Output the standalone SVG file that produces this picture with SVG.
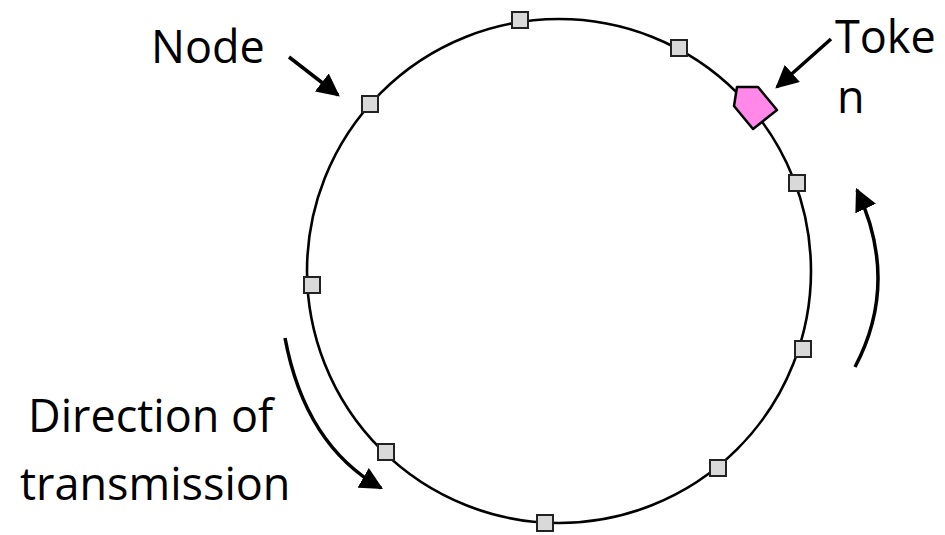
<svg xmlns="http://www.w3.org/2000/svg" width="945" height="535" viewBox="0 0 945 535">
<style>
.ring{fill:none;stroke:#000;stroke-width:2.6}
.node{fill:#d9d9d9;stroke:#222;stroke-width:2}
.arr{fill:none;stroke:#000;stroke-width:3.5}
.lbl{font-family:"Open Sans","Liberation Sans",sans-serif;font-size:45px;fill:#000}
</style>
<defs>
<marker id="head" viewBox="0 0 10 10" refX="9" refY="5" markerWidth="6.5" markerHeight="6.5" orient="auto">
<path d="M0,0 L10,5 L0,10 Z" fill="#000"/>
</marker>
</defs>
<g id="ring"><circle class="ring" cx="559" cy="271" r="252"/></g>
<g id="node1"><rect class="node" x="512" y="12" width="16" height="16"/></g>
<g id="node2"><rect class="node" x="671" y="40" width="16" height="16"/></g>
<g id="node3"><rect class="node" x="789" y="175" width="16" height="16"/></g>
<g id="node4"><rect class="node" x="795" y="341" width="16" height="16"/></g>
<g id="node5"><rect class="node" x="710" y="460" width="16" height="16"/></g>
<g id="node6"><rect class="node" x="537" y="515" width="16" height="16"/></g>
<g id="node7"><rect class="node" x="378" y="444" width="16" height="16"/></g>
<g id="node8"><rect class="node" x="304" y="277" width="16" height="16"/></g>
<g id="node9"><rect class="node" x="362" y="96" width="16" height="16"/></g>
<g id="token"><polygon points="737,87 758,87 777,110 753,129 734,106" fill="#ff88e8" stroke="#000" stroke-width="2.5" stroke-linejoin="round"/></g>
<g id="connectors">
<path class="arr" d="M289,57 L338,95" marker-end="url(#head)"/>
<path class="arr" d="M831,39 L777,87" marker-end="url(#head)"/>
<path class="arr" d="M285,338 Q305,445 381,488" marker-end="url(#head)"/>
<path class="arr" d="M855,367 Q900,282 857,190" marker-end="url(#head)"/>
</g>
<g id="labels">
<text class="lbl" x="151" y="63">Node</text>
<text class="lbl" x="835" y="53">Toke</text>
<text class="lbl" x="837" y="113">n</text>
<text class="lbl" x="28" y="432">Direction of</text>
<text class="lbl" x="20" y="500">transmission</text>
</g>
</svg>
